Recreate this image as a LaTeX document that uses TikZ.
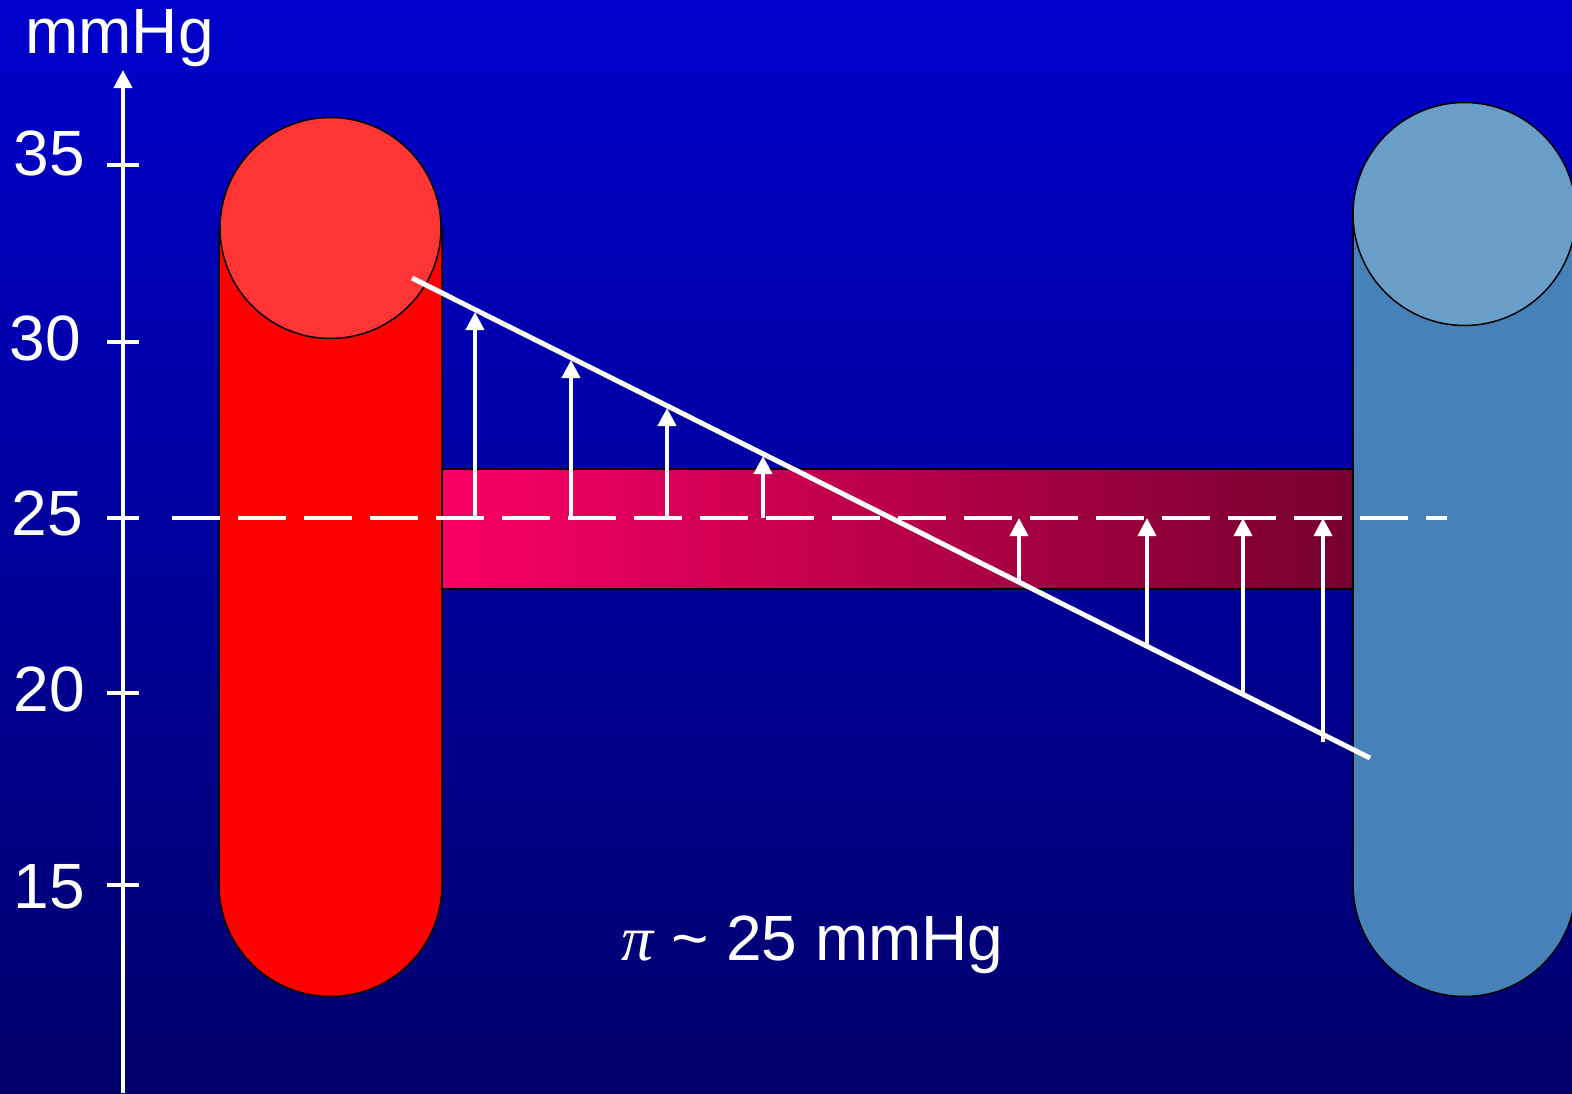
\documentclass[tikz,border=0pt]{standalone}
\usepackage{fontspec}
\setmainfont{Liberation Sans}
\newfontfamily\piserif{Liberation Serif}
\usetikzlibrary{arrows.meta}
\definecolor{bgtop}{RGB}{0,0,204}
\definecolor{bgbot}{RGB}{0,0,108}
\definecolor{artbody}{RGB}{255,0,0}
\definecolor{arttop}{RGB}{255,53,53}
\definecolor{venbody}{RGB}{70,130,185}
\definecolor{ventop}{RGB}{104,158,200}
\definecolor{capleft}{RGB}{250,0,100}
\definecolor{capright}{RGB}{118,0,46}
\begin{document}
\begin{tikzpicture}[x=1pt,y=1pt,
  lbl/.style={text=white,font=\fontsize{64}{70}\selectfont,inner sep=0pt},
  wline/.style={draw=white,line width=4pt},
  uparrow/.style={wline,-{Triangle[width=18pt,length=18pt]}},
  outl/.style={draw=black,line width=1.5pt}]
\useasboundingbox (0,0) rectangle (1572,-1093);
\clip (0,0) rectangle (1572,-1093);
% background
\shade[top color=bgtop,bottom color=bgbot] (0,0) rectangle (1572,-1093);
% arterial (red) cylinder
\path[fill=artbody,outl] (219,-228) -- (219,-885) arc (180:360:111.5) -- (442,-228) -- cycle;
\path[fill=arttop,outl] (330.5,-228) circle[radius=110.5];
% venous (blue) cylinder
\path[fill=venbody,outl] (1353,-214) -- (1353,-885) arc (180:360:111.5) -- (1576,-214) -- cycle;
\path[fill=ventop,outl] (1464.5,-214) circle[radius=111.5];
% capillary band
\shade[left color=capleft,right color=capright] (442,-469) rectangle (1353,-589);
\draw[outl] (442,-469) rectangle (1353,-589);
% axis
\coordinate (axbot) at (123,-1093);
\coordinate (axtop) at (123,-70);
\draw[uparrow] (axbot) -- (axtop);
\foreach \yy in {165,342,518,693,885} \draw[wline] (107,-\yy) -- (139,-\yy);
\node[lbl,anchor=base west] (unit) at (25,-53) {mmHg};
\node[lbl,anchor=base east] (l35) at (85,-175) {35};
\node[lbl,anchor=base east] (l30) at (81,-360) {30};
\node[lbl,anchor=base east] (l25) at (83,-535) {25};
\node[lbl,anchor=base east] (l20) at (85,-711) {20};
\node[lbl,anchor=base east] (l15) at (85,-908) {15};
% hydrostatic pressure line
\coordinate (s1) at (412,-278);
\coordinate (s2) at (1370,-758);
\draw[draw=white,line width=5pt] (s1) -- (s2);
% oncotic pressure dashed line
\coordinate (d1) at (172,-518);
\coordinate (d2) at (1447,-518);
\draw[draw=white,line width=4pt,dash pattern=on 48pt off 18pt] (d1) -- (d2);
% filtration arrows
\foreach \xx/\yt in {475/312,571/360,667/408,763/456}
  \draw[uparrow] (\xx,-518) -- (\xx,-\yt);
% reabsorption arrows
\foreach \xx/\yb in {1019/580,1147/644,1243/692,1323/742}
  \draw[uparrow] (\xx,-\yb) -- (\xx,-518);
% label
\node[lbl,anchor=base west] (pi) at (621,-960) {{\piserif\itshape π} \textasciitilde{} 25 mmHg};
\end{tikzpicture}
\end{document}
